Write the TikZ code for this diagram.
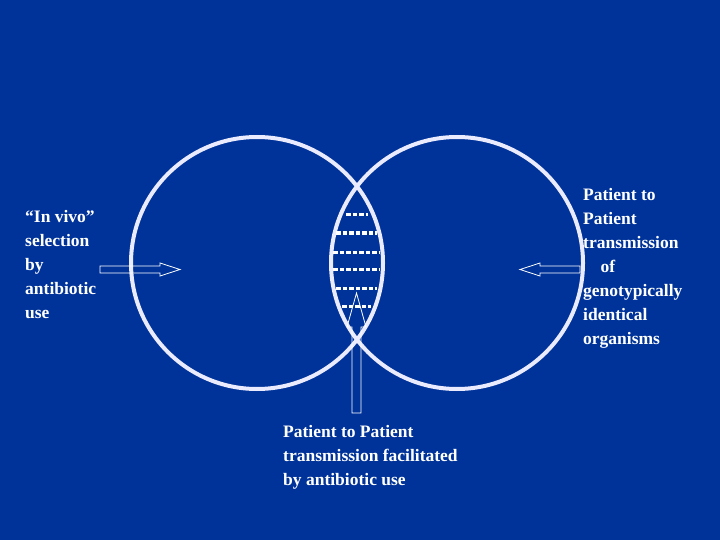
\documentclass[tikz,border=0pt]{standalone}
\usepackage{fontspec}
\setmainfont{Liberation Serif}
\definecolor{slideblue}{RGB}{0,51,153}
\begin{document}
\begin{tikzpicture}[x=1pt,y=-1pt]
  \tikzset{
    ring/.style={draw=white!92!blue,line width=4pt},
    hatch/.style={draw=white,line width=3pt,dash pattern=on 4.5pt off 2pt},
    blockarrow/.style={draw=white,line width=0.8pt},
    caption/.style={text=white,font=\bfseries\fontsize{17.5}{24}\selectfont,align=left,inner sep=0pt}
  }
  \fill[slideblue] (0,0) rectangle (720,540);
  \useasboundingbox (0,0) rectangle (720,540);

  % the two circles
  \draw[ring] (257,263) circle (126);
  \draw[ring] (457,263) circle (126);

  % dashed overlap
  \foreach \y/\xa/\xb in {215/346/368,233/336/377,252/333/380,269/333/380,288/336/377,306/342/371}
    \draw[hatch] (\xa,\y) -- (\xb,\y);

  % block arrows
  \draw[blockarrow] (100,266) -- (160,266) -- (160,263) -- (180,269.5) -- (160,276) -- (160,273) -- (100,273) -- cycle;
  \draw[blockarrow] (580,266) -- (540,266) -- (540,263) -- (520,269.5) -- (540,276) -- (540,273) -- (580,273) -- cycle;
  \draw[blockarrow] (352,413) -- (352,327) -- (347,327) -- (356.5,293) -- (366,327) -- (361,327) -- (361,413) -- cycle;

  % captions
  \node[caption,anchor=north west] (selection) at (25,210) {``In vivo''\\selection\\by\\antibiotic\\use};
  \node[caption,anchor=north west] (transmission) at (583,188) {Patient to\\Patient\\transmission\\\hspace{1em}of\\genotypically\\identical\\organisms};
  \node[caption,anchor=north west] (facilitated) at (283,425) {Patient to Patient\\transmission facilitated\\by antibiotic use};
\end{tikzpicture}
\end{document}
